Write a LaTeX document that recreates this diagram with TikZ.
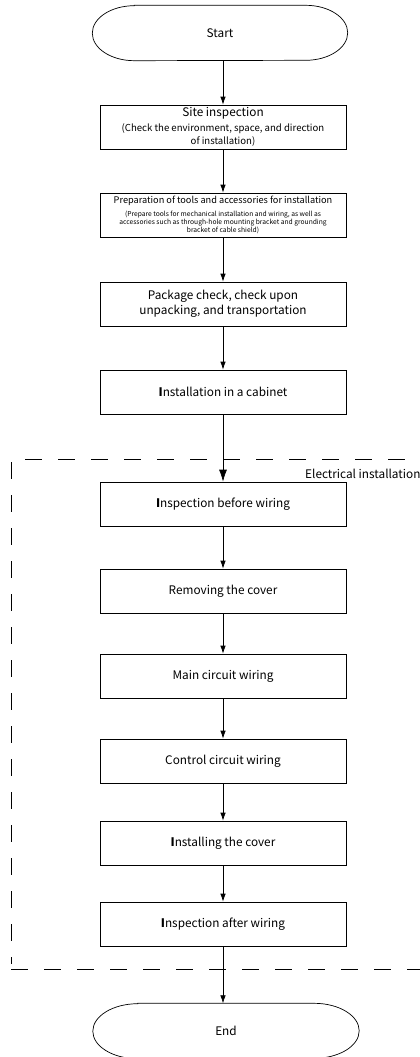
\documentclass[tikz,border=0pt]{standalone}
\usepackage{fontspec}
\setmainfont{Noto Sans CJK SC}
\usetikzlibrary{arrows,arrows.meta,positioning}

\newcommand{\mainfs}{\fontsize{11.8}{14}\selectfont}
\newcommand{\subfs}{\fontsize{9.6}{13}\selectfont}
\newcommand{\tinyfs}{\fontsize{6.7}{8}\selectfont}

\begin{document}
\begin{tikzpicture}[x=1pt,y=-1pt,
  stepbox/.style={draw,line width=0.7pt,minimum width=246pt,minimum height=44pt,inner sep=0pt,align=center,font=\mainfs},
  terminal/.style={minimum width=#1,minimum height=55pt,inner sep=0pt,font=\mainfs},
  flow/.style={line width=0.7pt,-{Latex[length=8pt,width=5.5pt]}},
  region/.style={line width=0.7pt,dash pattern=on 17pt off 16pt}]
\useasboundingbox (0,0) rectangle (420,1057);

\node[terminal=255pt] (start) at (220,33) {Start};
\draw[line width=0.7pt] ([xshift=42pt]start.north west) -- ([xshift=-42pt]start.north east)
  arc[start angle=90,end angle=-90,x radius=42pt,y radius=27.5pt] -- ([xshift=42pt]start.south west)
  arc[start angle=270,end angle=90,x radius=42pt,y radius=27.5pt] -- cycle;

\node[stepbox,font=\fontsize{11.8}{13}\selectfont] (site) at (223,127) {Site inspection\\[2pt]{\subfs (Check the environment, space, and direction}\\{\subfs of installation)}};
\node[stepbox,font=\fontsize{9.2}{8}\selectfont] (prep) at (223,215) {Preparation of tools and accessories for installation\\[5pt]{\tinyfs (Prepare tools for mechanical installation and wiring, as well as}\\{\tinyfs accessories such as through-hole mounting bracket and grounding}\\{\tinyfs bracket of cable shield)}};
\node[stepbox,font=\fontsize{11.8}{15}\selectfont] (pack) at (223,304) {Package check, check upon\\unpacking, and transportation};
\node[stepbox] (cab) at (223,392) {\textbf{I}nstallation in a cabinet};

\node[stepbox] (before) at (223,504) {\textbf{I}nspection before wiring};
\node[stepbox] (cover) at (223,591) {Removing the cover};
\node[stepbox] (main) at (223,676) {Main circuit wiring};
\node[stepbox] (ctrl) at (223,761) {Control circuit wiring};
\node[stepbox] (refit) at (223,843) {\textbf{I}nstalling the cover};
\node[stepbox] (after) at (223,924) {\textbf{I}nspection after wiring};

\node[terminal=266pt] (end) at (226,1031) {End};
\draw[line width=0.7pt] ([xshift=45pt]end.north west) -- ([xshift=-45pt]end.north east)
  arc[start angle=90,end angle=-90,x radius=45pt,y radius=27.5pt] -- ([xshift=45pt]end.south west)
  arc[start angle=270,end angle=90,x radius=45pt,y radius=27.5pt] -- cycle;

\coordinate (eltl) at (25,459);
\coordinate (eltr) at (420,459);
\coordinate (elbl) at (11,969);
\coordinate (elbr) at (420,969);
\draw[region] (eltl) -- (eltr);
\draw[region] ([yshift=-3pt]elbl |- eltl) -- ([yshift=5pt]elbl);
\draw[region] (elbl) -- (elbr);
\node[anchor=base west,inner sep=0pt,font=\fontsize{11.8}{14}\selectfont] (elec) at (305,478) {Electrical installation};

\draw[flow] (start.south -| site.north) -- (site.north);
\draw[flow] (site) -- (prep);
\draw[flow] (prep) -- (pack);
\draw[flow] (pack) -- (cab);
\draw[line width=0.7pt,-{Latex[length=12pt,width=8pt]}] (cab) -- (before);
\draw[flow] (before) -- (cover);
\draw[flow] (cover) -- (main);
\draw[flow] (main) -- (ctrl);
\draw[flow] (ctrl) -- (refit);
\draw[flow] (refit) -- (after);
\draw[flow] (after) -- (end.north -| after.south);

\end{tikzpicture}
\end{document}
